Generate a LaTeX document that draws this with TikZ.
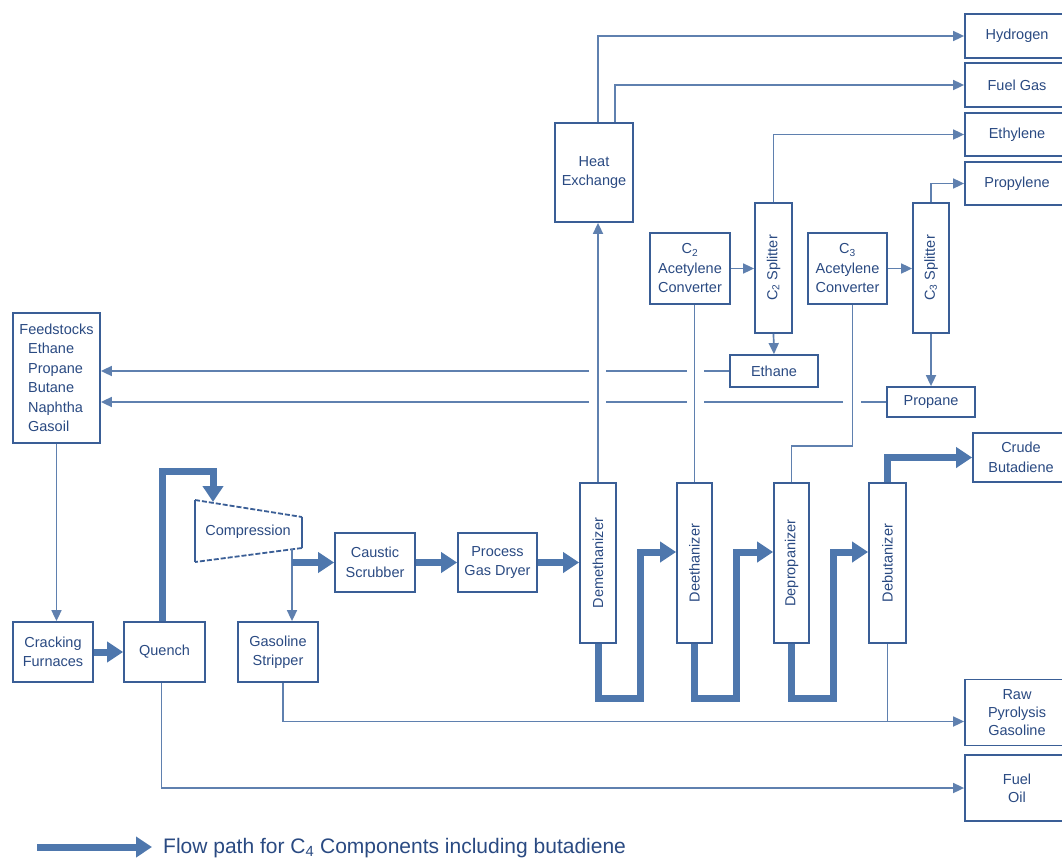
\documentclass[tikz,border=0pt]{standalone}
\usepackage{fontspec}
\setmainfont{Liberation Sans}
\usepackage{graphicx}
\usetikzlibrary{arrows.meta,calc}
\definecolor{boxc}{HTML}{3A5E96}
\definecolor{linec}{HTML}{5F80AF}
\definecolor{flowc}{HTML}{4E77AD}
\definecolor{txtc}{HTML}{2A4A82}
\tikzset{
  unit/.style={draw=boxc, line width=1.8pt, fill=white, inner sep=0pt, align=center,
    text=txtc, font=\fontsize{14.5}{19.5}\selectfont},
  thinln/.style={draw=linec, line width=1.7pt},
  thinarr/.style={thinln, -{Triangle[length=11pt,width=10pt]}},
  flow/.style={draw=flowc, line width=7pt, -{Triangle[length=16pt,width=20pt]}},
  rot/.style={unit, minimum height=160pt},
}
\begin{document}
\begin{tikzpicture}[x=1pt,y=-1pt]
\useasboundingbox (0,0) rectangle (1062,862);
\fill[white] (0,0) rectangle (1062,862);
\clip (0,0) rectangle (1062,862);

% output boxes
\node[unit, minimum width=104pt, minimum height=44pt] (hyd) at (1017,36) {Hydrogen};
\node[unit, minimum width=104pt, minimum height=44pt] (fg) at (1017,85) {Fuel Gas};
\node[unit, minimum width=104pt, minimum height=43pt] (ethy) at (1017,134.5) {Ethylene};
\node[unit, minimum width=104pt, minimum height=43pt] (propy) at (1017,183.5) {Propylene};
\node[unit, minimum width=96pt, minimum height=49pt] (cb) at (1021,457.5) {Crude\\Butadiene};
\node[unit, minimum width=104pt, minimum height=66pt, font=\fontsize{14.5}{18}\selectfont] (rpg) at (1017,712.5) {Raw\\Pyrolysis\\Gasoline};
\node[unit, minimum width=104pt, minimum height=66pt, font=\fontsize{14.5}{18}\selectfont] (fo) at (1017,788) {Fuel\\Oil};

% process units
\node[unit, minimum width=78pt, minimum height=99pt] (he) at (594,172.5) {Heat\\Exchange};
\node[unit, minimum width=80pt, minimum height=71pt] (c2c) at (690,268.5) {C\textsubscript{2}\\Acetylene\\Converter};
\node[unit, minimum width=37pt, minimum height=130pt] (c2s) at (773.5,268) {\rotatebox{90}{C\textsubscript{2} Splitter}};
\node[unit, minimum width=88pt, minimum height=32pt] (ethn) at (774,371) {Ethane};
\node[unit, minimum width=79pt, minimum height=71pt] (c3c) at (847.5,268.5) {C\textsubscript{3}\\Acetylene\\Converter};
\node[unit, minimum width=36pt, minimum height=130pt] (c3s) at (931,268) {\rotatebox{90}{C\textsubscript{3} Splitter}};
\node[unit, minimum width=88pt, minimum height=30pt] (prop) at (931,402) {Propane};

\node[unit, minimum width=87pt, minimum height=130pt, align=left] (feed) at (56.5,378)
  {Feedstocks\\\hspace*{0.6em}Ethane\\\hspace*{0.6em}Propane\\\hspace*{0.6em}Butane\\\hspace*{0.6em}Naphtha\\\hspace*{0.6em}Gasoil};
\node[unit, minimum width=80pt, minimum height=60pt] (cf) at (53,652) {Cracking\\Furnaces};
\node[unit, minimum width=81pt, minimum height=60pt] (q) at (164.5,652) {Quench};
\node[unit, minimum width=80pt, minimum height=60pt] (gs) at (278,652) {Gasoline\\Stripper};
\node[unit, minimum width=80pt, minimum height=59pt] (cs) at (375,562.5) {Caustic\\Scrubber};
\node[unit, minimum width=79pt, minimum height=59pt] (pgd) at (497.5,562.5) {Process\\Gas Dryer};

\node[rot, minimum width=36pt] (dm) at (598,563) {\rotatebox{90}{Demethanizer}};
\node[rot, minimum width=35pt] (dee) at (694.5,563) {\rotatebox{90}{Deethanizer}};
\node[rot, minimum width=35pt] (dp) at (791.5,563) {\rotatebox{90}{Depropanizer}};
\node[rot, minimum width=37pt] (db) at (887.5,563) {\rotatebox{90}{Debutanizer}};

% compression (trapezoid)
\coordinate (ctl) at (195,500);
\coordinate (cbl) at (195,562);
\coordinate (ctr) at (302,517);
\coordinate (cbr) at (302,548);
\fill[white] (ctl) -- (ctr) -- (cbr) -- (cbl) -- cycle;
\draw[boxc, line width=1.8pt] (ctr) -- (cbr) (cbl) -- (ctl);
\draw[boxc, line width=1.8pt, dash pattern=on 5pt off 2pt] (ctl) -- (ctr) (cbr) -- (cbl);
\node[text=txtc, font=\fontsize{14.5}{19.5}\selectfont] (comp) at (248,532) {Compression};
\coordinate (compin) at (213,502);
\coordinate (compout) at (292,549);

% thin connectors
\draw[thinarr] ([xshift=4pt]he.north) |- (hyd.west);
\draw[thinarr] ([xshift=21pt]he.north) |- (fg.west);
\draw[thinarr] (c2s.north) |- (ethy.west);
\draw[thinarr] (c3s.north) |- (propy.west);
\draw[thinarr] (c2c.east) -- (c2s.west |- c2c.east);
\draw[thinarr] (c3c.east) -- (c3s.west |- c3c.east);
\draw[thinarr] (c2s.south) -- (ethn.north);
\draw[thinarr] (c3s.south) -- (prop.north);
\draw[thinarr] (dm.north) -- (dm.north |- he.south);
\draw[thinln] (dee.north) -- (dee.north |- c2c.south);
\draw[thinln] (dp.north) -- ++(0,-36) -| ([xshift=5pt]c3c.south);

% recycle lines with gaps
\draw[thinarr] (ethn.west) -- ($(dee.north|-ethn.west)+(9,0)$)
  ($(dee.north|-ethn.west)+(-8,0)$) -- ($(dm.north|-ethn.west)+(8,0)$)
  ($(dm.north|-ethn.west)+(-9,0)$) -- (feed.east|-ethn.west);
\draw[thinarr] (prop.west) -- ($(c3c.south|-prop.west)+(13.5,0)$)
  ($(c3c.south|-prop.west)+(-4.5,0)$) -- ($(dee.north|-prop.west)+(9,0)$)
  ($(dee.north|-prop.west)+(-8,0)$) -- ($(dm.north|-prop.west)+(8,0)$)
  ($(dm.north|-prop.west)+(-9,0)$) -- (feed.east|-prop.west);

\draw[thinarr] (feed.south) -- (feed.south |- cf.north);
\draw[thinarr] (compout) -- (compout |- gs.north);
\coordinate (rpgin) at ([yshift=-9pt]rpg.west);
\draw[thinarr] ([xshift=5pt]gs.south) |- (rpgin);
\draw[thinln] (db.south) -- (db.south |- rpgin);
\draw[thinarr] ([xshift=-3pt]q.south) |- (fo.west);

% C4 flow path (thick)
\draw[flow] (cf.east) -- (q.west);
\draw[flow] ([xshift=-2.5pt]q.north) -- ++(0,-150) -| (compin);
\draw[flow] (compout |- cs.west) -- (cs.west);
\draw[flow] (cs.east) -- (pgd.west);
\draw[flow] (pgd.east) -- (dm.west |- pgd.east);
\draw[flow] (dm.south) -- ++(0,55) -| ([xshift=-36pt,yshift=11pt]dee.west) -- ([yshift=11pt]dee.west);
\draw[flow] (dee.south) -- ++(0,55) -| ([xshift=-37pt,yshift=11pt]dp.west) -- ([yshift=11pt]dp.west);
\draw[flow] (dp.south) -- ++(0,55) -| ([xshift=-35pt,yshift=11pt]db.west) -- ([yshift=11pt]db.west);
\draw[flow] (db.north) |- (cb.west);

% legend
\coordinate (lg1) at (37,847);
\coordinate (lg2) at (152,847);
\draw[flow] (lg1) -- (lg2);
\node[anchor=west, text=txtc, font=\fontsize{21}{25}\selectfont, inner sep=0pt] (lgt) at (163,848)
  {Flow path for C\textsubscript{4} Components including butadiene};
\end{tikzpicture}
\end{document}
